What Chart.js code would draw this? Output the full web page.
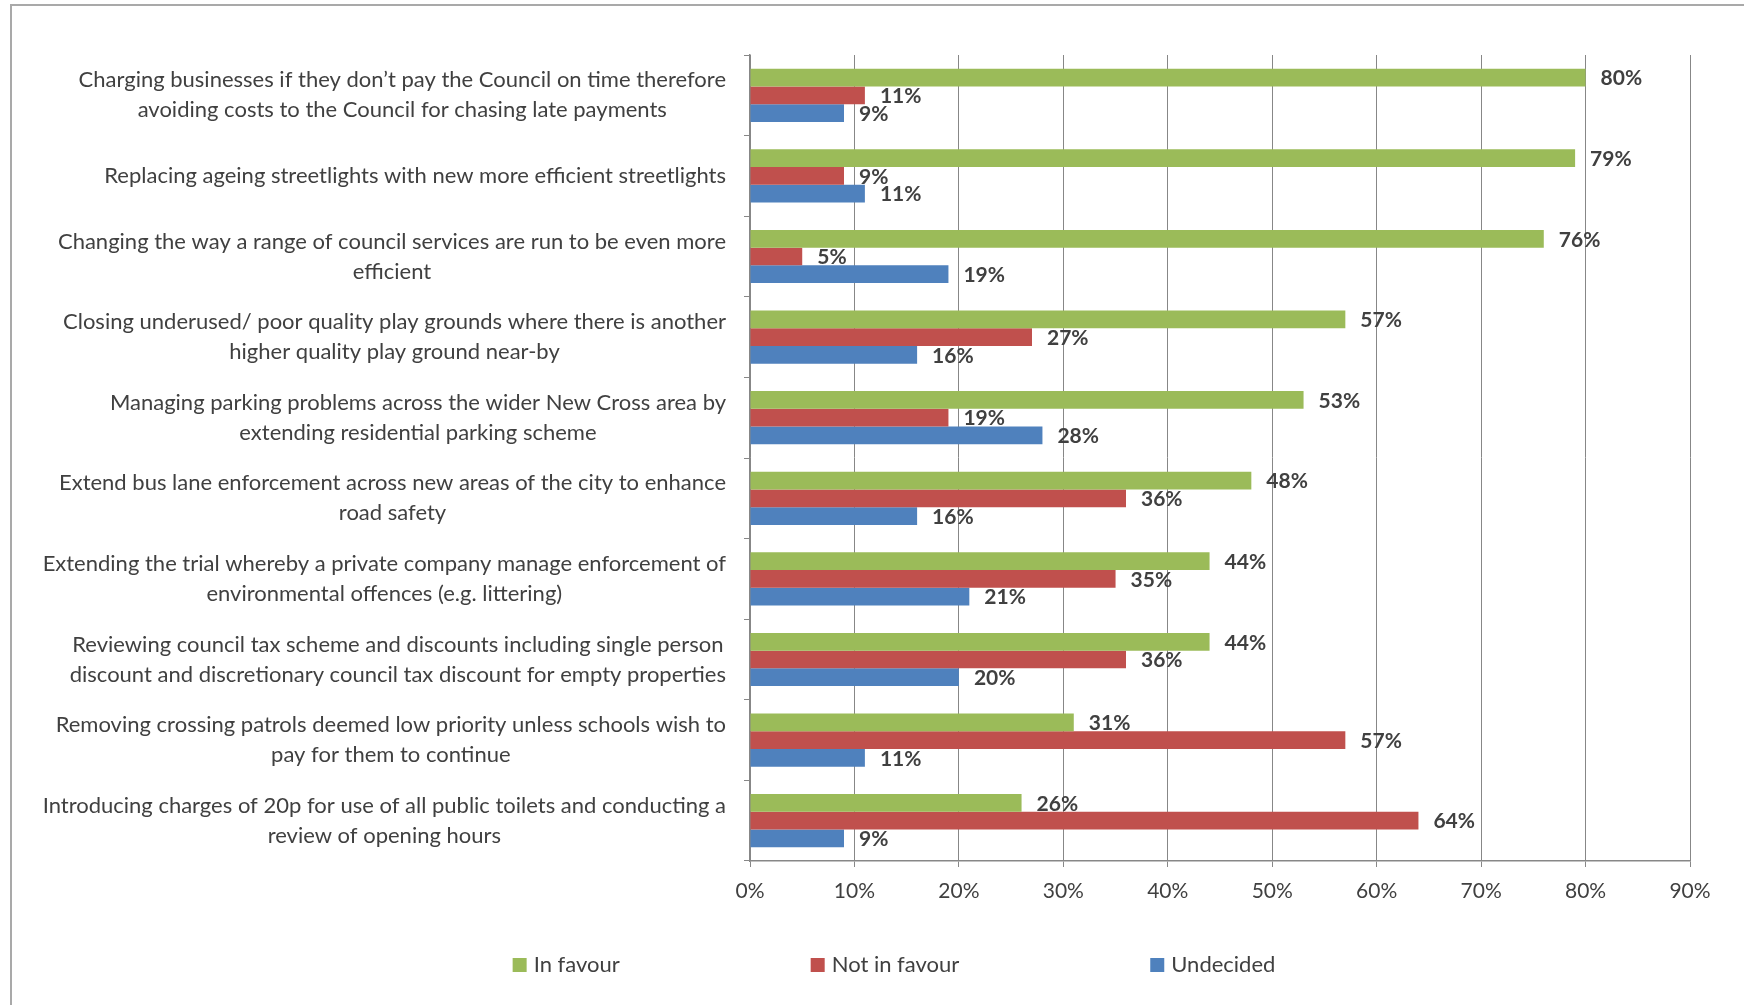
<!DOCTYPE html>
<html>
<head>
<meta charset="utf-8">
<title>Budget proposals</title>
<script src="https://cdn.jsdelivr.net/npm/chart.js@4.4.0/dist/chart.umd.min.js"></script>
<style>
  html, body { margin: 0; padding: 0; background: #fff; }
  canvas { display: block; }
</style>
</head>
<body>
<canvas id="proposalChart" width="1744" height="1005"></canvas>
<script>
// Proposals (each entry split into the lines it is printed on)
const proposals = [
    ['Charging businesses if they don\u2019t pay the Council on time therefore', 'avoiding costs to the Council for chasing late payments'],
    ['Replacing ageing streetlights with new more efficient streetlights'],
    ['Changing the way a range of council services are run to be even more', 'efficient'],
    ['Closing underused/ poor quality play grounds where there is another', 'higher quality play ground near-by'],
    ['Managing parking problems across the wider New Cross area by', 'extending residential parking scheme'],
    ['Extend bus lane enforcement across new areas of the city to enhance', 'road safety'],
    ['Extending the trial whereby a private company manage enforcement of', 'environmental offences (e.g. littering)'],
    ['Reviewing council tax scheme and discounts including single person', 'discount and discretionary council tax discount for empty properties'],
    ['Removing crossing patrols deemed low priority unless schools wish to', 'pay for them to continue'],
    ['Introducing charges of 20p for use of all public toilets and conducting a', 'review of opening hours']
];
const inFavour    = [80, 79, 76, 57, 53, 48, 44, 44, 31, 26];
const notInFavour = [11, 9, 5, 27, 19, 36, 35, 36, 57, 64];
const undecided   = [9, 11, 19, 16, 28, 16, 21, 20, 11, 9];
const percentTicks = [0, 10, 20, 30, 40, 50, 60, 70, 80, 90];

const FONT = 'Lato, "Open Sans", sans-serif';
const TEXT = '#404040';
const AXIS = '#878787';

// thin frame round the whole chart
const framePlugin = {
    id: 'frame',
    beforeDraw(chart) {
        const ctx = chart.ctx;
        ctx.save();
        ctx.strokeStyle = '#a9a9a9';
        ctx.lineWidth = 2;
        ctx.strokeRect(11, 5, chart.width, chart.height);
        ctx.restore();
    }
};

// category text: block right aligned to the axis, lines centred within it
const proposalLabels = {
    id: 'proposalLabels',
    afterDraw(chart) {
        const ctx = chart.ctx;
        const yScale = chart.scales.y;
        const right = chart.chartArea.left - 24;
        const lineGap = 30;
        ctx.save();
        ctx.font = '22px ' + FONT;
        ctx.fillStyle = TEXT;
        ctx.textAlign = 'center';
        ctx.textBaseline = 'middle';
        chart.data.labels.forEach((lines, i) => {
            const w = Math.max(...lines.map(l => ctx.measureText(l).width));
            const cx = right - w / 2;
            const cy = yScale.getPixelForValue(i);
            lines.forEach((line, k) => {
                ctx.fillText(line, cx, cy + (k - (lines.length - 1) / 2) * lineGap);
            });
        });
        ctx.restore();
    }
};

// percentage at the end of every bar
const valueLabels = {
    id: 'valueLabels',
    afterDatasetsDraw(chart) {
        const ctx = chart.ctx;
        ctx.save();
        ctx.font = 'bold 21px ' + FONT;
        ctx.fillStyle = TEXT;
        ctx.textAlign = 'left';
        ctx.textBaseline = 'middle';
        chart.data.datasets.forEach((ds, i) => {
            chart.getDatasetMeta(i).data.forEach((bar, j) => {
                ctx.fillText(ds.data[j] + '%', bar.x + 15, bar.y + 1);
            });
        });
        ctx.restore();
    }
};

// legend row under the axis, wide spacing between entries
const spacedLegend = {
    id: 'spacedLegend',
    afterDraw(chart) {
        const ctx = chart.ctx;
        const box = 14, gap = 7, spacing = 191, cy = 965;
        ctx.save();
        ctx.font = '22px ' + FONT;
        ctx.textBaseline = 'middle';
        ctx.textAlign = 'left';
        const items = chart.data.datasets.map(ds => ({
            text: ds.label,
            color: ds.backgroundColor,
            w: ctx.measureText(ds.label).width
        }));
        const total = items.reduce((s, it) => s + box + gap + it.w, 0) + spacing * (items.length - 1);
        let x = 894 - total / 2;
        items.forEach(it => {
            ctx.fillStyle = it.color;
            ctx.fillRect(x, cy - box / 2, box, box);
            ctx.fillStyle = TEXT;
            ctx.fillText(it.text, x + box + gap, cy);
            x += box + gap + it.w + spacing;
        });
        ctx.restore();
    }
};

const ctx = document.getElementById('proposalChart').getContext('2d');
new Chart(ctx, {
    type: 'bar',
    data: {
        labels: proposals,
        datasets: [
            { label: 'In favour', data: inFavour, backgroundColor: '#9bbb59' },
            { label: 'Not in favour', data: notInFavour, backgroundColor: '#c0504d' },
            { label: 'Undecided', data: undecided, backgroundColor: '#4f81bd' }
        ]
    },
    options: {
        indexAxis: 'y',
        responsive: false,
        animation: false,
        devicePixelRatio: 1,
        layout: { padding: { left: 0, right: 54, top: 55, bottom: 104 } },
        datasets: {
            bar: { categoryPercentage: 0.66, barPercentage: 1.0 }
        },
        scales: {
            x: {
                min: 0,
                max: 90,
                afterBuildTicks(scale) {
                    scale.ticks = percentTicks.map(v => ({ value: v }));
                },
                afterFit(scale) { scale.height = 40; },
                grid: { color: AXIS, lineWidth: 1, drawTicks: true, tickLength: 6 },
                border: { display: true, color: AXIS, width: 1.5 },
                ticks: {
                    padding: 12,
                    color: TEXT,
                    font: { family: FONT, size: 21 },
                    callback: v => v + '%'
                }
            },
            y: {
                afterFit(scale) { scale.width = 750; },
                grid: { drawOnChartArea: false, drawTicks: true, tickLength: 6, color: AXIS },
                border: { display: true, color: AXIS, width: 1.5 },
                ticks: { display: false }
            }
        },
        plugins: {
            legend: { display: false },
            tooltip: { enabled: false }
        }
    },
    plugins: [framePlugin, proposalLabels, valueLabels, spacedLegend]
});
</script>
</body>
</html>
